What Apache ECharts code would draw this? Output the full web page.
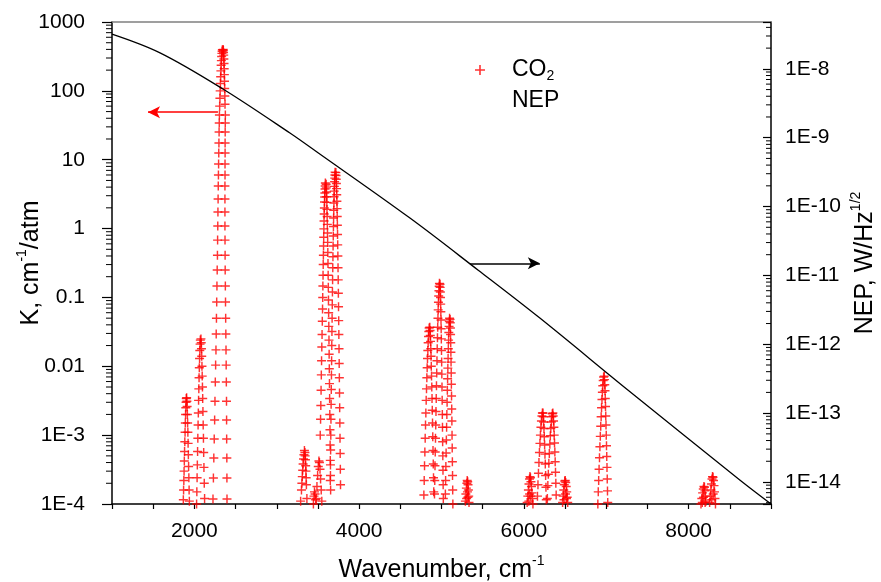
<!DOCTYPE html>
<html><head><meta charset="utf-8">
<script src="https://cdn.jsdelivr.net/npm/echarts@6/dist/echarts.min.js"></script>
<style>html,body{margin:0;padding:0;background:#fff}#c{width:881px;height:582px}</style>
</head><body><div id="c"></div>
<script>
// ---- CO2 absorption coefficient K (cm^-1/atm) vs wavenumber (cm^-1), per band ----
const band1932 = [[1902,3.4e-3],[1899,3.0e-3],[1896,2.5e-3],[1893,2.0e-3],[1890,1.5e-3],[1887,1.1e-3],[1884,8.0e-4],[1881,5.8e-4],[1878,4.2e-4],[1875,3.0e-4],[1872,2.2e-4],[1869,1.6e-4],[1866,1.15e-4],
  [1906,3.5e-3],[1909,3.1e-3],[1912,2.6e-3],[1915,2.0e-3],[1918,1.5e-3],[1921,1.1e-3],[1924,7.6e-4],[1927,5.2e-4],[1930,3.5e-4],[1933,2.4e-4],[1936,1.6e-4],[1939,1.1e-4]];
const band2076 = [[2072,0.024],[2069,0.021],[2066,0.017],[2063,0.013],[2060,0.0095],[2057,0.0068],[2054,0.0047],[2051,0.0032],[2048,0.0021],[2045,0.0014],[2042,9.0e-4],[2039,5.8e-4],[2036,3.7e-4],[2033,2.4e-4],[2030,1.5e-4],[2027,1.0e-4],
  [2080,0.025],[2083,0.022],[2086,0.018],[2089,0.014],[2092,0.010],[2095,0.0072],[2098,0.0050],[2101,0.0034],[2104,0.0022],[2107,0.0014],[2110,9.0e-4],[2113,5.6e-4],[2116,3.4e-4],[2120,2.0e-4],[2124,1.2e-4]];
const band2349 = [[2340,395],[2337,375],[2334,350],[2331,315],[2328,275],[2325,235],[2322,195],[2319,160],[2316,128],[2313,100],[2310,78],[2307,60],
  [2350,400],[2352,385],[2354,360],[2356,330],[2358,290],[2360,250],[2362,210],[2364,172],[2366,138],[2368,108],[2370,84],[2372,64],
  [2304,44.6],[2302,34.1],[2300,25.3],[2298,17.5],[2296,12.5],[2294,8.67],[2292,6.0],[2290,4.15],[2288,2.69],[2286,1.74],[2284,1.09],[2282,0.68],[2280,0.41],[2277,0.25],[2274,0.147],[2271,0.086],[2268,0.05],[2265,0.0294],[2262,0.0173],[2258,0.0104],[2254,0.0059],[2250,0.0031],[2246,0.00166],[2241,8.8e-4],[2236,4.66e-4],[2231,2.39e-4],[2226,1.18e-4],
  [2376,44.6],[2375,34.1],[2374,25.3],[2373,17.5],[2373,12.5],[2372,8.67],[2372,6.0],[2371,4.15],[2371,2.69],[2371,1.74],[2371,1.09],[2372,0.68],[2373,0.41],[2374,0.25],[2376,0.147],[2378,0.086],[2380,0.05],[2382,0.0294],[2384,0.0173],[2386,0.0104],[2388,0.0059],[2390,0.0031],[2391,0.00166],[2392,8.8e-4],[2394,4.66e-4],[2395,2.39e-4],[2396,1.18e-4]];
const band3340 = [[3290,1.1e-4],[3300,1.6e-4],[3310,2.5e-4],[3320,3.8e-4],[3330,5.2e-4],[3336,6.0e-4],[3342,5.6e-4],[3348,4.4e-4],[3354,3.0e-4],[3360,1.9e-4],[3366,1.2e-4],[3305,2.0e-4],[3315,3.1e-4],[3325,4.5e-4],[3345,5.0e-4],[3351,3.6e-4],[3357,2.4e-4]];
const band3470 = [[3445,1.0e-4],[3452,1.3e-4],[3458,1.5e-4],[3465,1.4e-4],[3472,1.15e-4],
  [3480,1.2e-4],[3488,1.8e-4],[3496,2.6e-4],[3504,3.5e-4],[3512,4.2e-4],[3518,4.0e-4],[3525,3.2e-4],[3532,2.3e-4],[3540,1.6e-4],[3547,1.1e-4]];
const band3612 = [[3590,4.6],[3588,4.15],[3586,3.76],[3584,3.29],[3582,2.88],[3580,2.43],[3578,1.99],[3576,1.63],[3574,1.29],[3572,0.99],[3570,0.75],[3568,0.56],[3566,0.41],[3564,0.30],[3562,0.21],[3560,0.147],[3558,0.10],[3556,0.068],[3553,0.045],[3550,0.029],[3547,0.019],[3544,0.012],[3541,0.0075],[3538,0.0045],[3535,0.0027],[3532,0.0017],[3528,0.0010],
  [3600,4.4],[3602,3.9],[3604,3.4],[3606,2.9],[3608,2.4],[3610,1.9],[3612,1.5],[3614,1.15],[3616,0.86],[3618,0.63],[3620,0.45],[3622,0.31],[3624,0.21],[3626,0.14],[3628,0.092],[3630,0.060],[3632,0.038],[3634,0.024],[3636,0.015],[3638,0.0092],[3640,0.0056],[3642,0.0034],[3644,0.0020],[3646,0.0012],[3648,7.2e-4],[3650,4.3e-4],[3652,2.6e-4],[3654,1.6e-4]];
const band3714 = [[3708,6.6],[3706,6.0],[3704,5.4],[3702,4.8],[3700,4.1],[3698,3.5],[3696,2.9],[3694,2.35],[3692,1.85],[3690,1.42],[3688,1.07],[3686,0.78],[3684,0.56],[3682,0.39],[3680,0.27],[3678,0.18],[3676,0.12],[3674,0.078],[3672,0.050],[3670,0.032],[3668,0.020],[3666,0.012],[3664,0.0075],[3662,0.0046],[3660,0.0028],[3658,0.0017],[3656,0.0010],[3654,6.1e-4],[3652,3.7e-4],[3650,2.2e-4],
  [3718,6.5],[3720,5.9],[3722,5.2],[3724,4.5],[3726,3.8],[3728,3.1],[3730,2.5],[3732,1.95],[3734,1.5],[3736,1.12],[3738,0.82],[3740,0.58],[3742,0.40],[3744,0.27],[3746,0.18],[3748,0.115],[3750,0.073],[3752,0.046],[3754,0.029],[3756,0.018],[3758,0.011],[3760,0.0068],[3762,0.0041],[3764,0.0025],[3766,0.0015],[3768,9.0e-4],[3770,5.4e-4],[3772,3.2e-4],[3774,1.9e-4]];
const band4853 = [[4850,0.036],[4846,0.032],[4842,0.027],[4838,0.022],[4834,0.017],[4830,0.013],[4826,0.0095],[4822,0.0068],[4818,0.0047],[4814,0.0032],[4810,0.0021],[4806,0.0014],[4802,9.0e-4],[4798,5.7e-4],[4794,3.6e-4],[4790,2.2e-4],[4786,1.35e-4],
  [4858,0.037],[4861,0.033],[4864,0.028],[4867,0.023],[4870,0.018],[4873,0.014],[4876,0.010],[4879,0.0072],[4882,0.0050],[4885,0.0034],[4888,0.0023],[4891,0.0015],[4894,9.5e-4],[4897,6.0e-4],[4900,3.8e-4],[4903,2.4e-4],[4906,1.5e-4]];
const band4978 = [[4975,0.16],[4972,0.145],[4969,0.125],[4966,0.105],[4963,0.085],[4960,0.066],[4957,0.05],[4954,0.037],[4951,0.026],[4948,0.018],[4945,0.012],[4942,0.008],[4939,0.0052],[4936,0.0034],[4933,0.0022],[4930,0.0014],[4927,9.0e-4],[4924,5.7e-4],[4921,3.6e-4],[4918,2.2e-4],[4915,1.4e-4],
  [4982,0.155],[4984,0.14],[4986,0.12],[4988,0.10],[4990,0.08],[4992,0.062],[4994,0.047],[4996,0.035],[4998,0.025],[5000,0.017],[5002,0.0115],[5004,0.0077],[5006,0.005],[5008,0.0032],[5010,0.002],[5012,0.0013],[5014,8.0e-4],[5016,5.0e-4],[5018,3.1e-4],[5020,1.9e-4],[5022,1.2e-4]];
const band5100 = [[5098,0.05],[5095,0.045],[5092,0.038],[5089,0.031],[5086,0.024],[5083,0.018],[5080,0.013],[5077,0.0094],[5074,0.0066],[5071,0.0045],[5068,0.003],[5065,0.002],[5062,0.0013],[5059,8.5e-4],[5056,5.5e-4],[5053,3.5e-4],[5050,2.2e-4],[5047,1.4e-4],
  [5104,0.048],[5106,0.043],[5108,0.036],[5110,0.029],[5112,0.022],[5114,0.016],[5116,0.0115],[5118,0.008],[5120,0.0055],[5122,0.0037],[5124,0.0024],[5126,0.0016],[5128,0.001],[5130,6.5e-4],[5132,4.1e-4],[5134,2.6e-4],[5136,1.6e-4],[5138,1.0e-4]];
const band5315 = [[5290,1.1e-4],[5296,1.4e-4],[5302,1.7e-4],[5308,2.0e-4],[5312,2.2e-4],[5318,2.1e-4],[5322,1.9e-4],[5326,1.6e-4],[5330,1.3e-4],[5334,1.05e-4],[5305,1.2e-4],[5315,1.5e-4],[5320,1.25e-4]];
const band6075 = [[6040,1.05e-4],[6048,1.3e-4],[6055,1.6e-4],[6062,1.95e-4],[6068,2.3e-4],[6074,2.5e-4],[6080,2.4e-4],[6086,2.1e-4],[6092,1.8e-4],[6098,1.45e-4],[6104,1.2e-4],[6110,1.0e-4],[6060,1.1e-4],[6070,1.4e-4],[6084,1.3e-4]];
const band6228 = [[6225,2.1e-3],[6219,1.9e-3],[6213,1.6e-3],[6207,1.3e-3],[6201,1.0e-3],[6195,7.6e-4],[6189,5.6e-4],[6183,4.0e-4],[6177,2.8e-4],[6171,1.9e-4],[6165,1.3e-4],
  [6232,2.1e-3],[6236,1.85e-3],[6240,1.55e-3],[6244,1.25e-3],[6248,9.5e-4],[6252,7.2e-4],[6256,5.3e-4],[6260,3.8e-4],[6264,2.6e-4],[6268,1.75e-4],[6272,1.15e-4]];
const band6348 = [[6345,2.05e-3],[6339,1.85e-3],[6333,1.55e-3],[6327,1.25e-3],[6321,9.8e-4],[6315,7.4e-4],[6309,5.4e-4],[6303,3.9e-4],[6297,2.7e-4],[6291,1.85e-4],[6285,1.2e-4],
  [6352,2.1e-3],[6356,1.9e-3],[6360,1.6e-3],[6364,1.3e-3],[6368,1.0e-3],[6372,7.7e-4],[6376,5.7e-4],[6380,4.1e-4],[6384,2.9e-4],[6388,2.0e-4],[6392,1.35e-4]];
const band6503 = [[6470,1.05e-4],[6477,1.3e-4],[6484,1.6e-4],[6490,1.9e-4],[6496,2.15e-4],[6502,2.2e-4],[6508,2.05e-4],[6514,1.8e-4],[6520,1.5e-4],[6526,1.25e-4],[6532,1.05e-4],[6487,1.15e-4],[6505,1.4e-4],[6517,1.2e-4]];
const band6972 = [[6968,7.0e-3],[6963,6.2e-3],[6958,5.2e-3],[6953,4.2e-3],[6948,3.3e-3],[6943,2.5e-3],[6938,1.85e-3],[6933,1.35e-3],[6928,9.6e-4],[6923,6.8e-4],[6918,4.7e-4],[6913,3.2e-4],[6908,2.2e-4],[6903,1.5e-4],[6898,1.0e-4],
  [6976,7.2e-3],[6979,6.4e-3],[6982,5.4e-3],[6985,4.4e-3],[6988,3.4e-3],[6991,2.6e-3],[6994,1.9e-3],[6997,1.4e-3],[7000,1.0e-3],[7003,7.0e-4],[7006,4.9e-4],[7009,3.4e-4],[7012,2.3e-4],[7015,1.55e-4],[7018,1.05e-4]];
const band8193 = [[8150,1.0e-4],[8160,1.2e-4],[8170,1.45e-4],[8178,1.65e-4],[8186,1.8e-4],[8192,1.75e-4],[8198,1.55e-4],[8204,1.3e-4],[8210,1.1e-4],[8166,1.05e-4],[8182,1.25e-4],[8200,1.05e-4]];
const band8294 = [[8255,1.05e-4],[8263,1.3e-4],[8270,1.6e-4],[8277,1.95e-4],[8284,2.3e-4],[8290,2.5e-4],[8296,2.45e-4],[8302,2.2e-4],[8308,1.85e-4],[8314,1.5e-4],[8320,1.2e-4],[8326,1.0e-4],[8280,1.15e-4],[8298,1.4e-4]];

// ---- NEP curve (W/Hz^1/2) ----
const nepX = [1000, 1583, 2347, 3160, 3488, 4617, 5442, 6194, 7262, 8621, 9000];
const nepY = [3.2e-8, 1.71e-8, 5.1e-9, 1.17e-9, 6.2e-10, 6.8e-11, 1.2e-11, 2.4e-12, 2.17e-13, 1.07e-14, 4.8e-15];

// ---- axis tick labels ----
const xTickLabels = {2000:'2000', 4000:'4000', 6000:'6000', 8000:'8000'};
const kTickLabels = ['1E-4','1E-3','0.01','0.1','1','10','100','1000'];      // exponents -4..3
const nepTickLabels = ['1E-14','1E-13','1E-12','1E-11','1E-10','1E-9','1E-8']; // exponents -14..-8

const FONT = "'Liberation Sans', Arial, sans-serif";
const co2Data = [].concat(band1932, band2076, band2349, band3340, band3470, band3612, band3714,
  band4853, band4978, band5100, band5315, band6075, band6228, band6348, band6503, band6972, band8193, band8294);
const nepData = nepX.map((x, i) => [x, nepY[i]]);
const PLUS = 'path://M4.2,0h1.6v4.2h4.2v1.6h-4.2v4.2h-1.6v-4.2h-4.2v-1.6h4.2z';

const chart = echarts.init(document.getElementById('c'), null, {renderer: 'canvas'});
const lbl = {fontFamily: FONT, fontSize: 21, color: '#000'};
const nameRich = {
  m: {fontFamily: FONT, fontSize: 25, color: '#000', lineHeight: 32},
  s: {fontFamily: FONT, fontSize: 14, color: '#000', lineHeight: 14, verticalAlign: 'top'}
};
const option = {
  animation: false,
  backgroundColor: '#fff',
  grid: {left: 112, right: 110, top: 22, bottom: 78, containLabel: false, outerBoundsMode: 'none'},
  legend: {
    orient: 'vertical', left: 447, top: 52, itemWidth: 54, itemHeight: 10, itemGap: 5,
    textStyle: {fontFamily: FONT, fontSize: 23, color: '#000', lineHeight: 26,
      rich: {m: {fontFamily: FONT, fontSize: 23, color: '#000'}, b: {fontFamily: FONT, fontSize: 14, color: '#000', verticalAlign: 'bottom', lineHeight: 22}}},
    formatter: n => n === 'CO2' ? '{m|CO}{b|2}' : '{m|' + n + '}',
    data: [{name: 'CO2', icon: PLUS}, {name: 'NEP', itemStyle: {opacity: 0}, lineStyle: {opacity: 0}}]
  },
  xAxis: [{
    type: 'value', min: 1000, max: 9000, interval: 500, position: 'bottom',
    name: '{m|Wavenumber, cm}{s|-1}', nameLocation: 'middle', nameGap: 50, nameMoveOverlap: false,
    nameTextStyle: {rich: nameRich},
    axisLine: {lineStyle: {color: '#000', width: 1.5}},
    axisTick: {length: 5, lineStyle: {color: '#000', width: 1.2}},
    axisLabel: Object.assign({margin: 17, formatter: v => xTickLabels[v] || ''}, lbl),
    splitLine: {show: false}
  }, {
    type: 'value', min: 1000, max: 9000, position: 'top',
    axisLine: {lineStyle: {color: '#808080', width: 1.5}},
    axisTick: {show: false}, axisLabel: {show: false}, splitLine: {show: false}
  }],
  yAxis: [{
    type: 'log', logBase: 10, min: 1e-4, max: 1000, position: 'left',
    name: '{m|K, cm}{s|-1}{m|/atm}', nameLocation: 'middle', nameGap: 65, nameRotate: 90, nameMoveOverlap: false,
    nameTextStyle: {rich: nameRich},
    axisLine: {lineStyle: {color: '#000', width: 1.5}},
    axisTick: {length: 10, lineStyle: {color: '#000', width: 1.2}},
    axisLabel: Object.assign({margin: 27, formatter: v => {
      const e = Math.log10(v), r = Math.round(e);
      return Math.abs(e - r) < 0.01 ? (kTickLabels[r + 4] || '') : '';
    }}, lbl),
    splitLine: {show: false}
  }, {
    type: 'log', logBase: 10, min: 4.79e-15, max: 4.79e-8, position: 'right',
    name: '{m|NEP, W/Hz}{s|1/2}', nameLocation: 'middle', nameGap: 78, nameRotate: 90, nameMoveOverlap: false,
    nameTextStyle: {rich: nameRich},
    axisLine: {lineStyle: {color: '#000', width: 1.5}},
    axisTick: {inside: true, length: 8, lineStyle: {color: '#000', width: 1.2}},
    axisLabel: Object.assign({margin: 14, formatter: v => {
      const e = Math.log10(v), r = Math.round(e);
      return Math.abs(e - r) < 0.01 ? (nepTickLabels[r + 14] || '') : '';
    }}, lbl),
    splitLine: {show: false}
  }],
  series: [{
    name: 'CO2', type: 'scatter', xAxisIndex: 0, yAxisIndex: 0,
    symbol: PLUS, symbolSize: 9, itemStyle: {color: '#ff0000'},
    data: co2Data, clip: true, z: 3,
    markLine: {
      silent: true, symbol: ['none', 'arrow'], symbolSize: [9, 12],
      label: {show: false}, lineStyle: {color: '#ff0000', width: 1.5, type: 'solid'},
      data: [[{coord: [2286, 49]}, {coord: [1437, 49]}]]
    }
  }, {
    name: 'NEP', type: 'line', xAxisIndex: 0, yAxisIndex: 1,
    data: nepData, showSymbol: false, smooth: 0.35,
    lineStyle: {color: '#000', width: 1.3}, itemStyle: {color: '#000'}, z: 4,
    markLine: {
      silent: true, symbol: ['none', 'arrow'], symbolSize: [9, 12],
      label: {show: false}, lineStyle: {color: '#000', width: 1.5, type: 'solid'},
      data: [[{coord: [5345, 1.5e-11]}, {coord: [6194, 1.5e-11]}]]
    }
  }]
};
chart.setOption(option);

// log minor ticks computed through the axis scales
const g = [];
const xl = chart.convertToPixel({xAxisIndex: 0}, 1000);
const xr = chart.convertToPixel({xAxisIndex: 0}, 9000);
for (let n = -4; n <= 2; n++) for (let k = 2; k <= 9; k++) {
  const y = chart.convertToPixel({yAxisIndex: 0}, k * Math.pow(10, n));
  g.push({type: 'line', shape: {x1: xl - 6, y1: y, x2: xl, y2: y}, style: {stroke: '#000', lineWidth: 1}, silent: true});
}
for (let n = -15; n <= -8; n++) for (let k = 2; k <= 9; k++) {
  const v = k * Math.pow(10, n);
  if (v < 4.79e-15 || v > 4.79e-8) continue;
  const y = chart.convertToPixel({yAxisIndex: 1}, v);
  g.push({type: 'line', shape: {x1: xr - 5, y1: y, x2: xr, y2: y}, style: {stroke: '#000', lineWidth: 1}, silent: true});
}
chart.setOption({graphic: g});
</script></body></html>
